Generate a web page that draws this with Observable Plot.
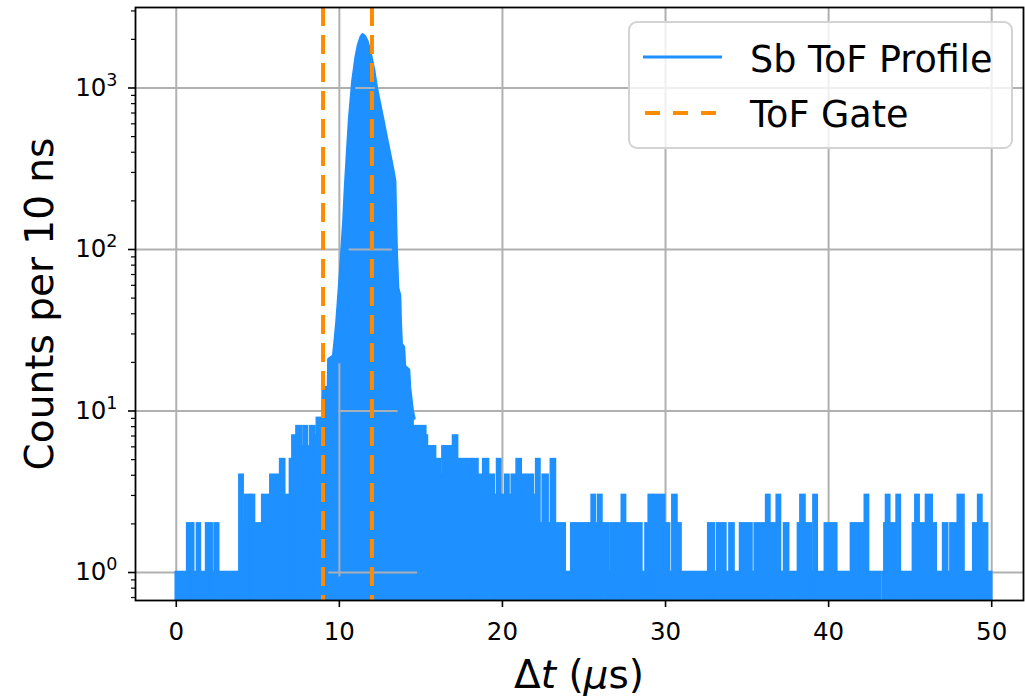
<!DOCTYPE html>
<html>
<head>
<meta charset="utf-8">
<script src="https://cdn.jsdelivr.net/npm/d3@7"></script>
<script src="https://cdn.jsdelivr.net/npm/@observablehq/plot@0.6"></script>
<style>
  html, body { margin: 0; padding: 0; background: #fff; }
  #chart { width: 1025px; height: 699px; }
  #chart svg { display: block; }
</style>
</head>
<body>
<div id="chart"></div>
<script>
// Sb time-of-flight histogram (10 ns bins), counts on a log scale.

// Runs before the main peak: bin-run edges (µs) and the count held over each run.
const earlyEdges = [0, 0.7, 0.85, 0.98, 1.07, 1.3, 1.48, 1.86, 1.98, 2.1, 2.2, 2.38, 2.6,
  3.9, 4.1, 4.25, 4.55, 4.6, 4.8, 5.3, 5.8, 6.4, 6.65, 7.0, 7.15, 7.4, 7.7, 7.85, 8.05,
  8.25, 8.5, 8.65, 8.95];
const earlyCounts = [1, 2, 1, 2, 1, 2, 1, 2, 1, 2, 1, 2, 1,
  4, 2, 3, 2, 3, 2, 3, 4, 5, 3, 5, 7, 8, 6, 8, 6, 8, 7, 9];

// Envelope of the main Sb peak.
const peakTimes = [8.95, 8.98, 9.3, 9.33, 9.62, 9.7, 9.83, 9.98, 10.12, 10.25, 10.35, 10.47,
  10.6, 10.8, 11.0, 11.15, 11.3, 11.42, 11.55, 11.72, 11.92, 12.13, 12.29, 12.49, 12.7,
  12.9, 13.11, 13.31, 13.42, 13.47, 13.52, 13.6, 13.72, 13.76, 13.82, 13.96, 14.02, 14.27,
  14.33, 14.45, 14.5, 14.6];
const peakCounts = [9, 14, 14, 21, 22, 26, 36, 58, 94, 150, 243, 390,
  640, 1100, 1550, 1850, 2060, 2150, 2100, 1950, 1630, 1290, 1010, 800, 630,
  495, 390, 307, 265, 150, 94, 58, 52, 36, 26, 25, 19, 18,
  14, 11, 10, 9];

// Runs after the peak out to 50 µs (0 = empty bins).
const tailEdges = [14.6, 15.3, 15.4, 15.9, 16.2, 16.35, 17.0, 17.25, 18.1, 18.2, 18.5, 18.85,
  19.15, 19.5, 19.7, 19.9, 20.2, 20.4, 20.6, 20.85, 20.9, 21.15, 21.3, 21.9, 22.1, 22.3,
  22.5, 22.8, 23.0, 23.25, 23.85, 24.25, 25.5, 25.7, 25.9, 26.1, 26.5, 26.65, 27.35, 27.55,
  28.55, 28.8, 29.0, 29.2, 29.3, 29.5, 29.65, 29.95, 30.25, 30.45, 30.7, 30.95, 32.65, 33.0,
  33.2, 33.7, 33.95, 34.2, 34.6, 35.3, 35.5, 36.2, 36.4, 36.85, 37.05, 37.3, 37.55, 38.15,
  38.3, 38.55, 38.95, 39.1, 39.3, 39.8, 40.5, 41.4, 42.25, 42.45, 42.8, 42.95, 43.2, 43.35,
  43.45, 43.55, 43.75, 44.2, 44.4, 45.2, 45.35, 45.55, 46.0, 46.35, 46.6, 47.05, 47.3, 47.5,
  47.95, 48.3, 48.75, 48.9, 49.2, 49.4, 49.75, 50.0];
const tailCounts = [8, 7, 6, 5, 4, 6, 7, 5, 4, 5, 4,
  5, 4, 3, 5, 3, 4, 3, 4, 3, 5, 3, 4, 3, 5,
  2, 4, 2, 5, 2, 1, 2, 3, 2, 3, 2, 1, 2, 3,
  2, 1, 2, 3, 2, 3, 1, 3, 2, 1, 3, 2, 1, 2,
  1, 2, 1, 2, 1, 2, 1, 2, 3, 2, 3, 1, 2, 1,
  2, 3, 2, 1, 3, 1, 2, 1, 2, 3, 1, 0, 1, 0,
  1, 2, 3, 2, 3, 1, 2, 3, 2, 3, 2, 1, 2, 1,
  2, 3, 1, 0, 2, 3, 2, 1];

// Places where the gridlines show through the densely filled peak.
const showThroughLevels = [1, 10, 100, 1000];
const showThroughFrom = [9.35, 9.96, 10.6, 11.0];
const showThroughTo = [14.8, 13.6, 13.25, 12.2];
const showThroughTime = 10;
const showThroughTop = 19.6;

// ToF gate boundaries (µs).
const gateTimes = [9, 12];

// Axes.
const xTicks = [0, 10, 20, 30, 40, 50];
const yTicks = [1, 10, 100, 1000];
const yTickBase = "10";
const yTickExponents = ["0", "1", "2", "3"];
const xDomain = [-2.5, 51.95];
const yDomain = [0.671, 3150];

const blue = "#1e90ff";
const orange = "#ff8c00";
const gridColor = "#b0b0b0";

function runsFrom(edges, counts) {
  return counts
    .map((c, i) => ({x1: edges[i], x2: edges[i + 1], count: c}))
    .filter(d => d.count > 0);
}
const runs = runsFrom(earlyEdges, earlyCounts).concat(runsFrom(tailEdges, tailCounts));
const peak = peakTimes.map((t, i) => ({t, count: peakCounts[i]}));
const showThrough = showThroughLevels.map((v, i) => ({v, x1: showThroughFrom[i], x2: showThroughTo[i]}));

const minorTicks = [];
for (const base of [0.1, 1, 10, 100, 1000]) {
  for (let k = 2; k <= 9; k++) {
    const v = base * k;
    if (v >= yDomain[0] && v <= yDomain[1]) minorTicks.push(v);
  }
}
const yExponentOf = new Map(yTicks.map((v, i) => [v, yTickExponents[i]]));
const yLabelTexts = new Set(yTickExponents.map(e => yTickBase + e));

const chart = Plot.plot({
  width: 1025,
  height: 699,
  marginLeft: 135,
  marginRight: 2,
  marginTop: 7,
  marginBottom: 99,
  style: {fontFamily: "'DejaVu Sans', sans-serif", background: "white", color: "black"},
  x: {domain: xDomain},
  y: {type: "log", domain: yDomain},
  marks: [
    Plot.gridX(xTicks, {stroke: gridColor, strokeOpacity: 1, strokeWidth: 2}),
    Plot.gridY(yTicks, {stroke: gridColor, strokeOpacity: 1, strokeWidth: 2}),
    Plot.rectY(runs, {
      x1: "x1", x2: "x2", y1: yDomain[0], y2: "count", fill: blue,
      insetLeft: -1.3, insetRight: -1.3, insetTop: -1.3
    }),
    Plot.areaY(peak, {x: "t", y1: yDomain[0], y2: "count", fill: blue}),
    Plot.lineY(peak, {x: "t", y: "count", stroke: blue, strokeWidth: 2.6, strokeLinejoin: "round"}),
    Plot.ruleY(showThrough, {y: "v", x1: "x1", x2: "x2", stroke: "#a7afb8", strokeWidth: 2}),
    Plot.ruleX([showThroughTime], {y1: yDomain[0] * 1.4, y2: showThroughTop, stroke: "#a7afb8", strokeWidth: 2}),
    Plot.ruleX(gateTimes, {stroke: orange, strokeWidth: 4, strokeDasharray: "19,9"}),
    Plot.frame({stroke: "black", strokeWidth: 1.8}),
    Plot.axisX(xTicks, {
      tickSize: 7, tickPadding: 15, fontSize: 24.5, strokeWidth: 1.6,
      tickFormat: d => String(d), label: null
    }),
    Plot.axisY(yTicks, {
      tickSize: 7, tickPadding: 11, fontSize: 24.5, strokeWidth: 1.6,
      tickFormat: d => yTickBase + yExponentOf.get(d), label: null
    }),
    Plot.axisY(minorTicks, {
      tickSize: 4, strokeWidth: 1.2, tickFormat: () => "", label: null
    })
  ]
});

document.getElementById("chart").appendChild(chart);

const svg = d3.select(chart);
const font = "'DejaVu Sans', sans-serif";

// Rewrite the decade labels as 10 with a raised exponent.
chart.querySelectorAll("text").forEach(node => {
  const s = (node.textContent || "").trim();
  if (!yLabelTexts.has(s)) return;
  const exp = s.slice(yTickBase.length);
  while (node.firstChild) node.removeChild(node.firstChild);
  const ns = "http://www.w3.org/2000/svg";
  const base = document.createElementNS(ns, "tspan");
  base.textContent = yTickBase;
  const sup = document.createElementNS(ns, "tspan");
  sup.setAttribute("font-size", "17.5");
  sup.setAttribute("dy", "-10");
  sup.textContent = exp;
  node.appendChild(base);
  node.appendChild(sup);
});

// Axis titles
const xLabel = svg.append("text")
  .attr("x", 579).attr("y", 688)
  .attr("text-anchor", "middle")
  .attr("font-family", font).attr("font-size", 39).attr("fill", "black");
xLabel.append("tspan").text("Δ");
xLabel.append("tspan").attr("font-style", "italic").text("t");
xLabel.append("tspan").text(" (");
xLabel.append("tspan").attr("font-style", "italic").text("μ");
xLabel.append("tspan").text("s)");

svg.append("text")
  .attr("transform", "translate(53,304) rotate(-90)")
  .attr("text-anchor", "middle")
  .attr("font-family", font).attr("font-size", 39).attr("fill", "black")
  .text("Counts per 10 ns");

// Legend
const legend = svg.append("g").attr("text-anchor", "start");
legend.append("rect")
  .attr("x", 629).attr("y", 22).attr("width", 383).attr("height", 126)
  .attr("rx", 8).attr("fill", "white").attr("fill-opacity", 0.8)
  .attr("stroke", "#d3d3d3").attr("stroke-width", 2);
legend.append("line")
  .attr("x1", 643).attr("x2", 722).attr("y1", 57).attr("y2", 57)
  .attr("stroke", blue).attr("stroke-width", 3.2);
legend.append("line")
  .attr("x1", 645).attr("x2", 722).attr("y1", 113).attr("y2", 113)
  .attr("stroke", orange).attr("stroke-width", 4).attr("stroke-dasharray", "15,13");
legend.append("text")
  .attr("x", 750).attr("y", 71.5).attr("text-anchor", "start")
  .attr("font-family", font).attr("font-size", 36.5).attr("fill", "black")
  .text("Sb ToF Profile");
legend.append("text")
  .attr("x", 750).attr("y", 126.5).attr("text-anchor", "start")
  .attr("font-family", font).attr("font-size", 36.5).attr("fill", "black")
  .text("ToF Gate");
</script>
</body>
</html>
